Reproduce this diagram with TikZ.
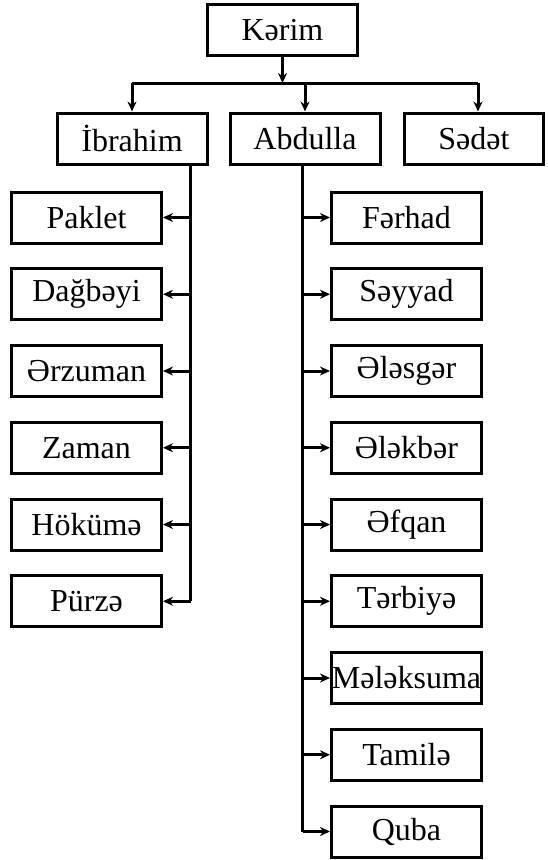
\documentclass[tikz,border=0pt]{standalone}
\usepackage{fontspec}
\setmainfont{Liberation Serif}
\usetikzlibrary{arrows.meta}
\begin{document}
\begin{tikzpicture}[x=1pt,y=-1pt,
  box/.style={draw, line width=3pt, inner sep=0pt, minimum height=51pt, font=\fontsize{32}{36}\selectfont},
  lbox/.style={box, minimum width=150pt},
  conn/.style={line width=3pt},
  arr/.style={conn, -{Stealth[length=10pt,width=9pt]}}]
\useasboundingbox (0,0) rectangle (547,860);
% top level
\node[box, minimum width=150pt] (ker) at (282.5,30) {Kərim};
\node[lbox] (ibr) at (132,138.5) {İbrahim};
\node[lbox] (abd) at (305,138.5) {Abdulla};
\node[box, minimum width=139pt] (sed) at (474,138.5) {Sədət};
\coordinate (hub) at (282.5,83);
\coordinate (hubR) at (478,83);
\draw[arr] (ker.south) -- (hub);
\draw[conn] (ibr.north |- hub) -- (hubR);
\draw[arr] (ibr.north |- hub) -- (ibr.north);
\draw[arr] (abd.north |- hub) -- (abd.north);
\draw[arr] (hubR) -- (hubR |- sed.north);
% left children
\foreach \n/\t [count=\k from 0] in {pak/Paklet, dag/Dağbəyi, erz/Ərzuman, zam/Zaman, hok/Hökümə, pur/Pürzə}{
  \node[lbox] (\n) at (86.5,{217.5+76.75*\k}) {\t};
}
% right children
\foreach \n/\t [count=\k from 0] in {fer/Fərhad, sey/Səyyad, ele/Ələsgər, elk/Ələkbər, efq/Əfqan, ter/Tərbiyə, mel/Mələksuma, tam/Tamilə, qub/Quba}{
  \node[lbox] (\n) at (406.5,{217.5+76.75*\k}) {\t};
}
\coordinate (ls) at (190.7,165);
\coordinate (rs) at (302.5,165);
\draw[conn] (ls) -- (ls |- pur.east);
\draw[conn] (rs) -- (rs |- qub.west);
\foreach \n in {pak,dag,erz,zam,hok,pur}{
  \draw[arr] (ls |- \n.east) -- (\n.east);
}
\foreach \n in {fer,sey,ele,elk,efq,ter,mel,tam,qub}{
  \draw[arr] (rs |- \n.west) -- (\n.west);
}
\end{tikzpicture}
\end{document}
